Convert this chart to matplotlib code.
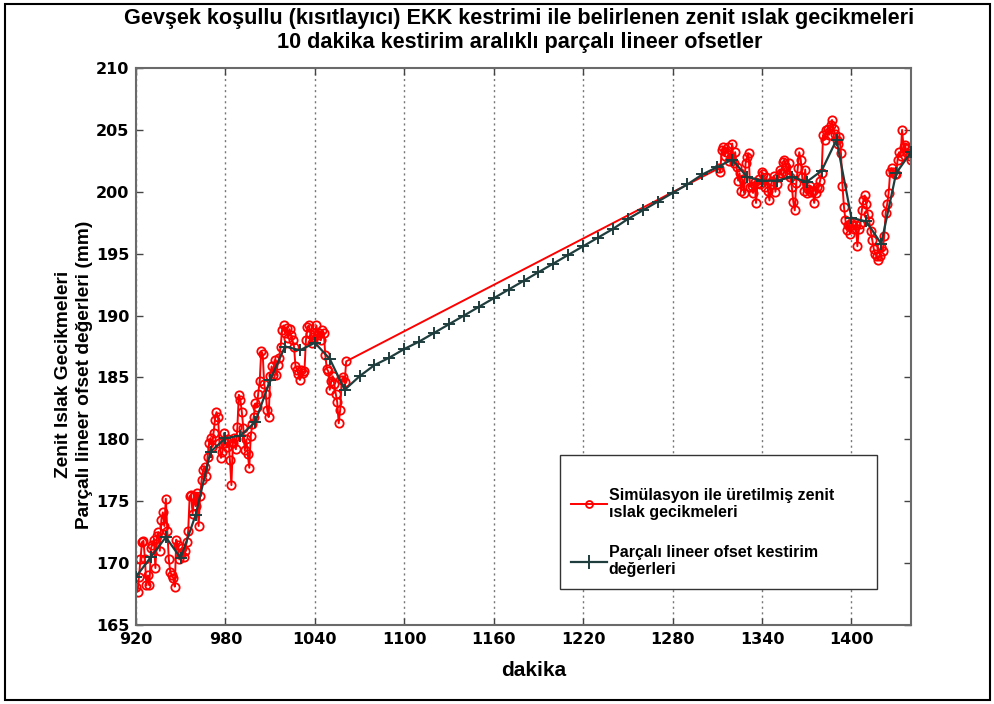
import numpy as np
import matplotlib.pyplot as plt
from matplotlib.patches import Rectangle

# simulated zenith wet delays, 1-min samples over the two observed spans
sim_t = np.r_[np.arange(920, 1062), np.arange(1311, 1441)]
sim_a = [
    168.1, 167.7, 168.9, 170.3, 171.7, 171.8, 170.3, 168.2, 169.0, 168.2,
    171.2, 171.5, 171.9, 169.6, 172.2, 172.5, 171.0, 173.5, 174.1, 173.0,
    175.2, 172.6, 170.3, 169.3, 169.0, 168.8, 168.1, 171.9, 171.5, 170.3,
    170.7, 171.2, 170.5, 171.0, 171.7, 172.6, 175.4, 175.5, 174.0, 175.4,
    174.6, 175.7, 173.0, 175.4, 176.7, 177.5, 177.8, 177.0, 178.6, 179.7,
    180.1, 179.4, 180.5, 181.6, 182.2, 181.8, 179.7, 178.5, 179.0, 180.5,
    179.7, 179.4, 180.0, 178.3, 176.3, 179.7, 180.1, 179.2, 181.0, 183.6,
    183.2, 182.2, 180.9, 179.1, 180.0, 178.8, 177.7, 180.3, 181.2, 181.8,
    182.9, 182.6, 183.7, 184.7, 187.1, 186.9, 184.5, 183.7, 182.4, 181.8,
    185.1, 185.9, 185.2, 186.4, 185.2, 186.0, 186.6, 187.5, 188.8, 189.2,
    188.6, 189.0, 188.2, 188.9, 188.4, 188.0, 187.5, 185.9, 185.6, 185.3,
    184.8, 185.6, 185.4, 185.5, 188.0, 189.1, 189.2, 188.5, 187.8, 188.3,
    188.6, 189.2, 188.4, 188.6, 188.0, 188.8, 188.6, 186.8, 185.7, 185.5,
    184.0, 184.7, 185.1, 184.5, 183.7, 183.0, 181.3, 182.4, 184.8, 185.0,
    184.6, 186.3,
]
sim_b = [
    201.9, 201.6, 203.4, 203.6, 202.9, 203.2, 203.6, 202.5, 202.8, 203.9,
    202.3, 203.2, 202.0, 200.9, 201.5, 200.1, 201.0, 199.9, 202.3, 202.8,
    203.1, 200.4, 200.5, 199.9, 200.8, 199.1, 200.7, 201.0, 200.6, 201.6,
    201.4, 200.4, 201.2, 200.1, 199.3, 200.6, 200.9, 201.3, 200.0, 200.6,
    201.2, 201.8, 201.5, 202.4, 202.6, 202.0, 201.4, 202.3, 201.2, 200.4,
    199.2, 198.5, 200.7, 201.9, 203.2, 202.6, 201.2, 200.1, 201.8, 199.9,
    200.2, 200.5, 200.0, 200.1, 199.1, 199.9, 200.4, 200.3, 200.9, 201.5,
    204.6, 204.2, 205.0, 205.1, 204.6, 205.4, 205.8, 205.1, 204.7, 204.2,
    203.9, 204.4, 203.1, 200.5, 198.8, 197.7, 196.9, 197.3, 196.6, 197.5,
    197.3, 197.0, 197.3, 195.6, 197.0, 197.4, 198.5, 199.3, 199.7, 199.0,
    198.2, 197.6, 196.8, 196.1, 195.4, 195.0, 194.8, 194.5, 194.8, 195.5,
    195.2, 196.4, 198.3, 199.0, 199.9, 201.6, 201.9, 201.6, 201.4, 201.4,
    202.6, 203.2, 202.9, 205.0, 203.6, 203.8, 203.1, 203.5, 202.9, 202.6,
]
sim_v = sim_a + sim_b

# piecewise-linear offset estimates, one every 10 min
est_t = np.arange(920, 1441, 10)
est_v = [
    168.9, 170.5, 172.1, 170.4, 173.9, 179.0, 180.1, 180.3, 181.4, 184.8,
    187.5, 187.2, 187.8, 186.5, 184.0, 185.1, 186.0, 186.6, 187.3, 187.9,
    188.6, 189.3, 190.0, 190.7, 191.4, 192.1, 192.8, 193.5, 194.2, 194.9,
    195.6, 196.3, 197.0, 197.8, 198.5, 199.2, 199.9, 200.6, 201.4, 202.0,
    202.6, 201.2, 200.9, 200.9, 201.2, 200.8, 201.7, 204.2, 197.9, 197.6,
    195.8, 201.5, 203.2,
]

x_ticks = np.arange(920, 1441, 60)
y_ticks = np.arange(165, 211, 5)

label_sim = "Simülasyon ile üretilmiş zenit\nıslak gecikmeleri"
label_est = "Parçalı lineer ofset kestirim\ndeğerleri"

plt.rcParams["font.family"] = ["Liberation Sans", "DejaVu Sans"]

fig = plt.figure(figsize=(9.95, 7.04), dpi=100)
ax = fig.add_axes([0.1367, 0.1122, 0.7789, 0.7912])

ax.plot(sim_t, sim_v, color="#ff0000", lw=1.4, marker="o", ms=6,
        mfc="none", mec="#ff0000", mew=1.3, label=label_sim, zorder=2)
ax.plot(est_t, est_v, color="#1f3d3d", lw=1.6, marker="+", ms=9,
        mew=1.4, label=label_est, zorder=3)

ax.set_xlim(920, 1440)
ax.set_ylim(165, 210)
ax.set_xticks(x_ticks)
ax.set_yticks(y_ticks)
ax.tick_params(direction="in", length=5, width=1, color="#444444",
               top=True, right=True, labelsize=11.5, pad=5,
               labelfontfamily="Liberation Sans Narrow")
for lab in ax.get_xticklabels() + ax.get_yticklabels():
    lab.set_fontweight("bold")
ax.xaxis.grid(True, ls=(0, (1.5, 2.5)), color="#777777", lw=1)
for s in ax.spines.values():
    s.set_color("#6a6a6a")
    s.set_linewidth(1.5)

fig.text(0.522, 0.974, "Gevşek koşullu (kısıtlayıcı) EKK kestrimi ile belirlenen zenit ıslak gecikmeleri",
         ha="center", va="center", fontsize=15.6, fontweight="bold")
fig.text(0.522, 0.940, "10 dakika kestirim aralıklı parçalı lineer ofsetler",
         ha="center", va="center", fontsize=15.6, fontweight="bold")

ax.set_xlabel("dakika", fontsize=15, fontweight="bold")
ax.xaxis.set_label_coords(0.5135, -0.0645)
ax.set_ylabel("Zenit Islak Gecikmeleri\nParçalı lineer ofset değerleri (mm)",
              fontsize=13.8, fontweight="bold", linespacing=1.3)
ax.yaxis.set_label_coords(-0.055, 0.45)

# legend box drawn separately so its padding can be uneven
ax.add_patch(Rectangle((0.547, 0.0646), 0.409, 0.2406, transform=ax.transAxes,
                       facecolor="white", edgecolor="#333333", lw=1, zorder=4))
leg = ax.legend(loc="center left", bbox_to_anchor=(0.561, 0.166), frameon=False,
                prop={"weight": "bold", "size": 11.5},
                handlelength=2.25, handletextpad=0.12, labelspacing=1.55,
                borderpad=0, borderaxespad=0)
leg.set_zorder(5)
for h in leg.legend_handles:
    h.set_markersize(5 if h.get_marker() == "o" else 10)

fig.add_artist(Rectangle((0.005, 0.006), 0.99, 0.988, transform=fig.transFigure,
                         fill=False, edgecolor="black", lw=1.5))

fig.savefig("out.png", dpi=100)
